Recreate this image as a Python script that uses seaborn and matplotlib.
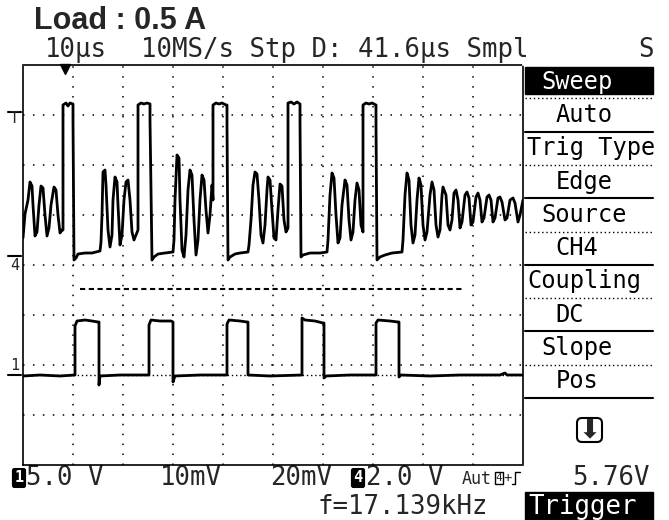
import numpy as np
import pandas as pd
import seaborn as sns
import matplotlib.pyplot as plt
from matplotlib.patches import Rectangle, FancyBboxPatch

# values
# CH4 trace: time in us, volts (2.0 V/div)
ch4_t = [0, 0.4, 1.0, 1.4, 1.8, 2.0, 2.4, 2.8, 3.2, 3.6, 4.0, 4.4, 4.8, 5.2, 5.6, 6.2, 6.6, 7.0, 7.4, 7.8,
         8.0, 8.0, 8.6, 9.0, 9.4, 10.0, 10.0, 10.2, 10.6, 11.0, 12.4, 13.8, 15.4,
         15.6, 15.8, 16.0, 16.4, 16.6, 17.0, 17.4, 17.8, 18.0, 18.4, 18.8, 19.0, 19.4, 19.8, 20.2, 20.6, 21.0,
         21.4, 21.8, 22.2, 22.6, 23.0, 23.0, 23.6, 24.2, 24.8, 25.4, 25.4, 25.8, 26.2, 27.0, 28.4, 30.0,
         30.2, 30.4, 30.8, 31.2, 31.4, 31.8, 32.2, 32.6, 33.0, 33.4, 33.8, 34.2, 34.6, 35.0, 35.4, 35.8, 36.2,
         36.6, 37.0, 37.4, 37.8, 38.0, 38.0, 38.6, 39.2, 39.8, 40.6, 40.8, 40.8, 41.0, 41.4, 42.4, 43.4, 45.0,
         45.2, 45.6, 46.0, 46.4, 46.8, 47.2, 47.6, 48.0, 48.4, 48.8, 49.0, 49.4, 49.8, 50.2, 50.6, 51.0, 51.4,
         51.8, 52.2, 52.6, 53.0, 53.0, 53.6, 54.2, 54.8, 55.4, 55.4, 55.6, 56.0, 57.4, 59.4, 60.8,
         61.0, 61.4, 61.8, 62.2, 62.6, 63.0, 63.4, 63.8, 64.4, 64.8, 65.2, 65.6, 66.0, 66.4, 66.8, 67.2, 67.6,
         68.0, 68.0, 68.6, 69.2, 69.8, 70.6, 70.6, 70.8, 71.4, 72.4, 73.8, 75.8,
         76.0, 76.4, 76.8, 77.2, 77.6, 78.0, 78.4, 78.8, 79.2, 79.6, 80.0, 80.4, 80.8, 81.4, 81.8, 82.2, 82.6,
         83.0, 83.4, 83.8, 84.0, 84.6, 85.0, 85.4, 85.8, 86.2, 86.6, 87.0, 87.4, 87.8, 88.4, 88.8, 89.2, 89.6,
         90.0, 90.6, 91.0, 91.4, 91.8, 92.2, 92.8, 93.2, 93.6, 94.0, 94.4, 95.0, 95.4, 95.8, 96.4, 96.8, 97.4,
         98.0, 98.4, 99.0, 99.4, 100.0]
ch4_v = [0.72, 1.68, 2.24, 2.96, 2.80, 2.04, 0.80, 0.96, 2.04, 2.80, 2.72, 1.64, 0.80, 1.12, 2.04, 2.76, 2.64, 1.64, 0.92, 1.04,
         1.04, 6.04, 6.12, 6.00, 6.12, 6.08, 5.44, -0.16, -0.08, 0.08, 0.12, 0.12, 0.20,
         0.56, 1.64, 3.36, 3.44, 2.84, 1.04, 0.36, 0.84, 2.24, 3.16, 2.96, 2.04, 0.44, 0.84, 2.24, 2.96, 3.04,
         2.24, 0.96, 0.64, 0.84, 1.04, 6.04, 6.12, 6.08, 6.12, 6.08, 5.44, -0.16, -0.04, 0.08, 0.12, 0.16,
         0.64, 2.24, 4.04, 3.92, 2.24, 0.24, -0.04, 0.84, 2.64, 3.44, 3.24, 1.44, 0.04, 0.64, 2.24, 3.24, 3.04,
         1.84, 0.92, 1.64, 2.84, 2.24, 6.04, 6.12, 6.08, 6.12, 6.04, 6.04, 5.24, -0.16, -0.04, 0.08, 0.12, 0.16,
         0.44, 1.44, 2.84, 3.36, 3.28, 2.24, 0.84, 0.52, 1.24, 2.64, 3.16, 3.04, 1.84, 0.72, 0.64, 1.84, 2.88,
         2.80, 1.44, 0.96, 1.12, 6.12, 6.16, 6.08, 6.16, 6.08, 5.44, -0.04, 0.04, 0.12, 0.12, 0.16,
         0.64, 2.44, 3.32, 3.12, 1.64, 0.52, 0.72, 2.04, 3.04, 2.84, 1.44, 0.64, 0.96, 2.24, 2.92, 2.64, 1.24,
         0.96, 6.04, 6.12, 6.08, 6.12, 6.04, 5.24, -0.16, -0.04, 0.04, 0.12, 0.16,
         0.64, 2.44, 3.32, 3.04, 1.24, 0.52, 0.84, 2.24, 3.12, 2.84, 1.24, 0.64, 0.96, 2.44, 2.96, 2.64, 1.24,
         0.76, 1.04, 2.44, 2.76, 2.44, 1.24, 1.04, 1.44, 2.52, 2.64, 2.24, 1.12, 1.36, 2.44, 2.56, 2.32, 1.24,
         1.36, 2.36, 2.52, 2.24, 1.36, 1.52, 2.36, 2.44, 2.24, 1.36, 1.52, 2.32, 2.36, 2.16, 1.44, 1.52, 2.24,
         2.32, 2.12, 1.36, 1.64, 2.24]

# CH1 trace: time in us, volts (5.0 V/div)
ch1_t = [0, 3.4, 7.4, 10.4, 10.4, 10.8, 12.4, 13.8, 15.0, 15.2, 15.2, 15.4, 19.4, 25.2, 25.2, 25.6, 27.4, 29.6,
         30.0, 30.0, 30.4, 35.4, 40.8, 40.8, 41.2, 43.4, 44.8, 45.0, 45.0, 49.4, 55.8, 55.8, 56.4, 58.4, 60.0,
         60.2, 60.2, 60.6, 65.4, 70.6, 70.6, 71.0, 73.4, 75.0, 75.2, 75.2, 75.6, 81.4, 87.4, 95.4, 96.4, 96.8, 100]
ch1_v = [-0.1, 0, -0.1, 0, 4.9, 5.4, 5.5, 5.4, 5.3, 5.3, -1.0, -0.1, 0, 0, 5.0, 5.5, 5.4, 5.4,
         5.3, -0.7, -0.1, 0, 0, 5.1, 5.5, 5.4, 5.3, 5.3, 0, -0.1, 0, 5.7, 5.5, 5.4, 5.2,
         5.2, -0.3, -0.1, 0, 0, 5.2, 5.5, 5.4, 5.3, 5.3, -0.2, 0, -0.1, 0, 0, 0.2, 0, 0]

ch4_scale, ch1_scale = 2.0, 5.0
ch4_ground, ch1_ground = 4.18, 1.8   # divisions from the bottom of the screen
trig_level = 5.76
trig_pos = 8.4
cursor_t = [11.4, 87.8]
cursor_div = 3.52

menu_labels = ['Sweep', 'Auto', 'Trig Type', 'Edge', 'Source', 'CH4', 'Coupling', 'DC', 'Slope', 'Pos']
menu_indent = [1, 2, 0, 2, 1, 2, 0, 2, 1, 2]

W, H = 669, 520
sns.set_style('white')
plt.rcParams['font.family'] = ['DejaVu Sans Mono', 'DejaVu Sans']

fig = plt.figure(figsize=(W / 100, H / 100), dpi=100)
bg = fig.add_axes([0, 0, 1, 1])
bg.set_xlim(0, W)
bg.set_ylim(H, 0)
bg.axis('off')

ax = fig.add_axes([23 / W, 55 / H, 500 / W, 400 / H])

df4 = pd.DataFrame({'t': ch4_t, 'div': ch4_ground + np.array(ch4_v) / ch4_scale})
df1 = pd.DataFrame({'t': ch1_t, 'div': ch1_ground + np.array(ch1_v) / ch1_scale})

ax.axhline(ch1_ground, color='black', lw=1, ls=(0, (1, 2)))
ax.hlines(cursor_div, cursor_t[0], cursor_t[1], color='black', lw=1.5, linestyles=[(0, (2.5, 1.7))])
sns.lineplot(data=df4, x='t', y='div', sort=False, estimator=None, color='black', lw=2.0, ax=ax)
sns.lineplot(data=df1, x='t', y='div', sort=False, estimator=None, color='black', lw=2.0, ax=ax)

ax.set_xlim(0, 100)
ax.set_ylim(0, 8)
ax.set_xticks(np.arange(10, 100, 10))
ax.set_yticks(np.arange(1, 8))
ax.set_xlabel('')
ax.set_ylabel('')
ax.tick_params(axis='both', labelbottom=False, labelleft=False, length=0)
ax.grid(True, color='black', lw=1.1, ls=(0, (1, 5.5)))
for s in ax.spines.values():
    s.set_visible(True)
    s.set_color('black')
    s.set_linewidth(1.2)
    s.set_linestyle((0, (1, 1)))

# trigger position and channel markers
ax.plot(trig_pos, 7.93, marker='v', ms=7, color='black', clip_on=False)
markers = [('T', ch4_ground + trig_level / ch4_scale, -0.13),
           ('4', ch4_ground, -0.19),
           ('1', ch1_ground, 0.19)]
for txt, lvl, off in markers:
    ax.plot([-3, -0.4], [lvl, lvl], color='black', lw=1.5, clip_on=False)
    ax.text(-1.7, lvl + off, txt, ha='center', va='center', fontsize=11, clip_on=False)

# right hand menu
row_h = 33.3
for i, (label, ind) in enumerate(zip(menu_labels, menu_indent)):
    top = 65 + i * row_h
    color = 'black'
    if i == 0:
        bg.add_patch(Rectangle((525, top + 2), 128, row_h - 6, color='black'))
        color = 'white'
    bg.text(527 + ind * 14.2, top + row_h / 2, label, ha='left', va='center', fontsize=17, color=color)
    if i % 2 == 0:
        bg.plot([525, 653], [top + row_h] * 2, color='black', lw=1, ls=(0, (1, 2)))
    else:
        bg.plot([525, 653], [top + row_h] * 2, color='black', lw=1.5)

bg.add_patch(FancyBboxPatch((577, 418), 25, 24, boxstyle='round,pad=0,rounding_size=5',
                            fc='white', ec='black', lw=1.5))
bg.text(589.5, 431, '⬇', fontsize=19, family='DejaVu Sans', ha='center', va='center')

# header
bg.text(34, 29, 'Load : 0.5 A', family='Liberation Sans', fontweight='bold', fontsize=22, va='baseline')
bg.text(45, 50, '10μs', va='center', fontsize=18.5)
bg.text(141, 50, '10MS/s Stp D: 41.6μs Smpl', va='center', fontsize=18.5)
bg.text(638, 50, 'S', va='center', fontsize=18.5)

# footer
bot = 478
bg.text(19, bot, '1', color='white', fontsize=11, ha='center', va='center', fontweight='bold',
        bbox=dict(boxstyle='round,pad=0.12', fc='black', ec='black'))
bg.text(26, bot, '5.0 V', va='center', fontsize=18.5)
bg.text(160, bot, '10mV', va='center', fontsize=18.5)
bg.text(270, bot, '20mV', va='center', fontsize=18.5)
bg.text(358, bot, '4', color='white', fontsize=11, ha='center', va='center', fontweight='bold',
        bbox=dict(boxstyle='round,pad=0.12', fc='black', ec='black'))
bg.text(366, bot, '2.0 V', va='center', fontsize=18.5)
bg.text(462, bot + 1, 'Aut', va='center', fontsize=12)
bg.text(499, bot, '4', va='center', ha='center', fontsize=8,
        bbox=dict(boxstyle='square,pad=0.1', fc='white', ec='black', lw=1))
bg.text(508, bot, '+', va='center', ha='center', fontsize=10)
bg.plot([512, 515, 515, 520], [484, 484, 472, 472], color='black', lw=1)
bg.text(572, bot, f'{trig_level:.2f}V', va='center', fontsize=18.5)
bg.text(318, 507, 'f=17.139kHz', va='center', fontsize=18.5)
bg.add_patch(Rectangle((525, 492), 128, 28, color='black'))
bg.text(528, 507, 'Trigger', va='center', fontsize=18.5, color='white')

fig.savefig('out.png', dpi=100)
